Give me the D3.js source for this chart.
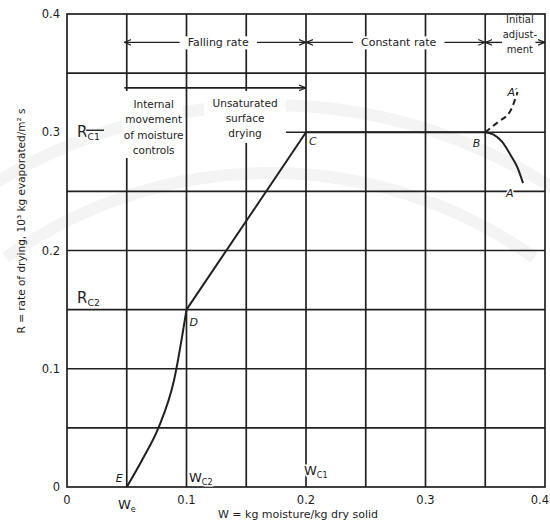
<!DOCTYPE html>
<html>
<head>
<meta charset="utf-8">
<script src="https://cdn.jsdelivr.net/npm/d3@7"></script>
<style>
body { margin: 0; background: #fff; }
text { font-family: "DejaVu Sans", sans-serif; fill: #1c1c1c; }
</style>
</head>
<body>
<div id="chart"></div>
<script>
const width = 550, height = 529;

// axis ticks and grid
const xTicks = [0, 0.1, 0.2, 0.3, 0.4];
const yTicks = [0, 0.1, 0.2, 0.3, 0.4];
const gridX = [0.05, 0.1, 0.15, 0.2, 0.25, 0.3, 0.35];
const gridY = [0.05, 0.1, 0.15, 0.2, 0.25, 0.35];

// drying rate curve: W (kg moisture/kg dry solid), R (rate)
const curveED = [[0.05, 0], [0.064, 0.025], [0.0765, 0.05], [0.0895, 0.09], [0.1, 0.15]];
const lineDC = [[0.1, 0.15], [0.2, 0.3]];
const lineCB = [[0.2, 0.3], [0.35, 0.3]];
const curveBA = [[0.35, 0.3], [0.357, 0.298], [0.364, 0.292], [0.371, 0.281], [0.377, 0.27], [0.3816, 0.257]];
const curveBA2 = [[0.35, 0.3], [0.3607, 0.3087], [0.371, 0.318], [0.377, 0.334]];

// lettered points
const pointNames = ["E", "D", "C", "B", "A", "A\u2032"];
const pointW = [0.05, 0.1, 0.2, 0.35, 0.3816, 0.377];
const pointR = [0, 0.15, 0.3, 0.3, 0.257, 0.334];

// region labels
const regionNames = ["Falling rate", "Constant rate"];
const regionFrom = [0.048, 0.2];
const regionTo = [0.2, 0.35];
const internalLines = ["Internal", "movement", "of moisture", "controls"];
const surfaceLines = ["Unsaturated", "surface", "drying"];
const adjustLines = ["Initial", "adjust-", "ment"];

const x = d3.scaleLinear().domain([0, 0.4]).range([67, 545]);
const y = d3.scaleLinear().domain([0, 0.4]).range([487, 14]);

const svg = d3.select("#chart").append("svg")
  .attr("width", width).attr("height", height)
  .attr("viewBox", [0, 0, width, height]);

const ink = "#202020";

// faint watermark arcs of the scanned page
[523, 455].forEach(r => {
  svg.append("path")
    .attr("transform", "translate(270,628)")
    .attr("d", d3.arc().innerRadius(r - 6).outerRadius(r + 6).startAngle(-0.62).endAngle(0.62)())
    .attr("fill", "#f4f4f4");
});

const defs = svg.append("defs");
defs.append("marker")
  .attr("id", "arrow")
  .attr("viewBox", "0 0 10 10")
  .attr("refX", 10).attr("refY", 5)
  .attr("markerWidth", 7).attr("markerHeight", 7)
  .attr("markerUnits", "userSpaceOnUse")
  .attr("orient", "auto-start-reverse")
  .append("path").attr("d", "M0,1L10,5L0,9").attr("fill", "none")
  .attr("stroke", ink).attr("stroke-width", 1.6);

const grid = svg.append("g").attr("stroke", ink).attr("stroke-width", 1.7).attr("fill", "none");

grid.selectAll(".vx").data(gridX).join("line")
  .attr("x1", d => x(d)).attr("x2", d => x(d))
  .attr("y1", y(0.4)).attr("y2", y(0));

grid.selectAll(".hy").data(gridY).join("line")
  .attr("x1", x(0)).attr("x2", x(0.4))
  .attr("y1", d => y(d)).attr("y2", d => y(d));

// 0.3 line only from the unsaturated-drying label onward
grid.append("line")
  .attr("x1", x(0.172)).attr("x2", x(0.4))
  .attr("y1", y(0.3)).attr("y2", y(0.3));

// frame
grid.append("rect")
  .attr("x", x(0)).attr("y", y(0.4))
  .attr("width", x(0.4) - x(0)).attr("height", y(0) - y(0.4));

// blank areas behind text blocks
const blank = svg.append("g").attr("fill", "#fff");
blank.append("rect").attr("x", x(0.046)).attr("y", 91).attr("width", x(0.097) - x(0.046)).attr("height", 67);
blank.append("rect").attr("x", 204).attr("y", 91).attr("width", 82).attr("height", 52);
blank.append("rect").attr("x", x(0.351)).attr("y", y(0.4) + 2).attr("width", x(0.398) - x(0.351)).attr("height", y(0.35) - y(0.4) - 4);

// bracket under the falling rate band
svg.append("line")
  .attr("x1", x(0.048)).attr("x2", x(0.2))
  .attr("y1", y(0.3375)).attr("y2", y(0.3375))
  .attr("stroke", ink).attr("stroke-width", 1.6)
  .attr("marker-end", "url(#arrow)");

// region header row
const headY = y(0.376);
const head = svg.append("g");
regionNames.forEach((name, i) => {
  const t = head.append("text")
    .attr("x", (x(regionFrom[i]) + x(regionTo[i])) / 2 + 3)
    .attr("y", headY + 4)
    .attr("text-anchor", "middle")
    .attr("font-size", 11)
    .text(name);
  const bb = t.node().getBBox();
  head.insert("rect", "text").attr("x", bb.x - 3).attr("y", bb.y).attr("width", bb.width + 6).attr("height", bb.height).attr("fill", "#fff");
  head.append("line").attr("x1", bb.x - 8).attr("x2", x(regionFrom[i]))
    .attr("y1", headY).attr("y2", headY).attr("stroke", ink).attr("stroke-width", 1.4)
    .attr("marker-end", "url(#arrow)");
  head.append("line").attr("x1", bb.x + bb.width + 8).attr("x2", x(regionTo[i]))
    .attr("y1", headY).attr("y2", headY).attr("stroke", ink).attr("stroke-width", 1.4)
    .attr("marker-end", "url(#arrow)");
});
head.append("line").attr("x1", x(0.364)).attr("x2", x(0.35))
  .attr("y1", headY).attr("y2", headY).attr("stroke", ink).attr("stroke-width", 1.4)
  .attr("marker-end", "url(#arrow)");
head.append("line").attr("x1", x(0.392)).attr("x2", x(0.4))
  .attr("y1", headY).attr("y2", headY).attr("stroke", ink).attr("stroke-width", 1.4)
  .attr("marker-end", "url(#arrow)");

const block = (lines, cx, y0, step, size) => svg.append("text")
  .attr("text-anchor", "middle").attr("font-size", size)
  .selectAll("tspan").data(lines).join("tspan")
  .attr("x", cx).attr("y", (d, i) => y0 + i * step).text(d => d);

block(adjustLines, x(0.379), 23, 15, 10);
block(internalLines, x(0.0725), 108, 15.3, 10.5);
block(surfaceLines, x(0.149), 107, 15, 10.5);

// curve
const line = d3.line().x(d => x(d[0])).y(d => y(d[1]));
const smooth = d3.line().x(d => x(d[0])).y(d => y(d[1])).curve(d3.curveMonotoneX);
const curveG = svg.append("g").attr("fill", "none").attr("stroke", ink).attr("stroke-width", 2);
curveG.append("path").attr("d", smooth(curveED));
curveG.append("path").attr("d", line(lineDC));
curveG.append("path").attr("d", line(lineCB));
curveG.append("path").attr("d", smooth(curveBA));
curveG.append("path").attr("d", smooth(curveBA2)).attr("stroke-dasharray", "6,4");

// point letters
const letterDx = [-4, 3, 3, -5, -17, 0];
const letterDy = [-5, 16, 13, 15, 14, 4];
const letterAnchor = ["end", "start", "start", "end", "start", "end"];
svg.append("g").selectAll("text").data(pointNames).join("text")
  .attr("x", (d, i) => x(pointW[i]) + letterDx[i])
  .attr("y", (d, i) => y(pointR[i]) + letterDy[i])
  .attr("text-anchor", (d, i) => letterAnchor[i])
  .attr("font-size", 11).attr("font-style", "italic")
  .attr("stroke", "#fff").attr("stroke-width", 3).attr("paint-order", "stroke")
  .text(d => d);

// subscripted symbols
const symbol = (main, sub, px, py, size) => {
  const t = svg.append("text").attr("x", px).attr("y", py).attr("font-size", size)
    .attr("stroke", "#fff").attr("stroke-width", 3).attr("paint-order", "stroke");
  t.append("tspan").text(main);
  t.append("tspan").attr("font-size", size * 0.62).attr("dy", 3).text(sub);
};
symbol("R", "C1", 77, y(0.3) + 5, 15);
svg.append("line").attr("x1", x(0.016)).attr("x2", x(0.031))
  .attr("y1", y(0.3) - 2).attr("y2", y(0.3) - 2).attr("stroke", ink).attr("stroke-width", 1.4);
symbol("R", "C2", 77, y(0.15) - 7, 15);
symbol("W", "e", 118, 509, 13);
symbol("W", "C2", 189, 482, 13);
symbol("W", "C1", x(0.2) - 2, 475, 13);

// tick labels
svg.append("g").selectAll("text").data(yTicks).join("text")
  .attr("x", 60).attr("y", d => y(d) + 4)
  .attr("text-anchor", "end").attr("font-size", 11.5)
  .text(d => d === 0 ? "0" : d3.format(".1f")(d));

svg.append("g").selectAll("text").data(xTicks).join("text")
  .attr("x", d => d === 0.4 ? width - 1 : x(d)).attr("y", 504)
  .attr("text-anchor", d => d === 0.4 ? "end" : "middle").attr("font-size", 11.5)
  .text(d => d === 0 ? "0" : d3.format(".1f")(d));

// axis titles
svg.append("text")
  .attr("x", 298).attr("y", 518)
  .attr("text-anchor", "middle").attr("font-size", 11)
  .text("W = kg moisture/kg dry solid");

svg.append("text")
  .attr("transform", "translate(25,221) rotate(-90)")
  .attr("text-anchor", "middle").attr("font-size", 10.5)
  .text("R = rate of drying, 10\u00b3 kg evaporated/m\u00b2 s");
</script>
</body>
</html>
